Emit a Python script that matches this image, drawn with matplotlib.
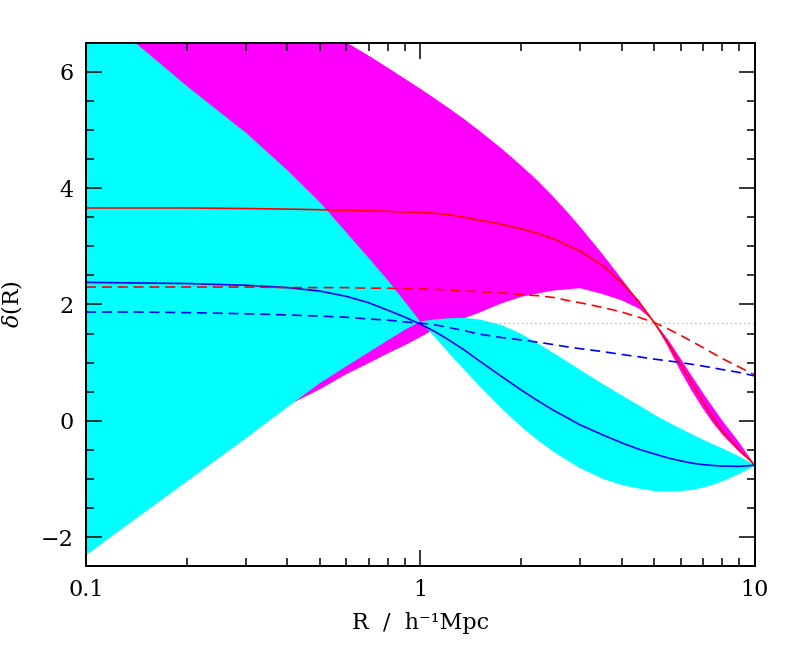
import numpy as np
import matplotlib
matplotlib.use("Agg")
import matplotlib.pyplot as plt

plt.rcParams['font.family'] = ['DejaVu Serif']
plt.rcParams['mathtext.fontset'] = 'dejavuserif'

# radius grid (h^-1 Mpc)
R = [0.1, 0.14, 0.2, 0.3, 0.4, 0.5, 0.6, 0.7, 0.8, 0.9, 1.0,
     1.1, 1.2, 1.35, 1.5, 1.75, 2.0, 2.25, 2.5, 2.75, 3.0,
     3.5, 4.0, 4.5, 5.0, 5.5, 6.0, 6.5, 7.0, 7.5, 8.0, 9.0, 10.0]

# cyan band edges
cyan_a = [7.2, 6.51, 5.76, 4.96, 4.31, 3.76, 3.24, 2.80, 2.41, 2.04, 1.70,
          1.45, 1.20, 0.88, 0.60, 0.21, -0.10, -0.34, -0.53, -0.68, -0.81,
          -0.99, -1.10, -1.16, -1.20, -1.21, -1.20, -1.18, -1.14, -1.09, -1.03, -0.90, -0.76]
cyan_b = [-2.30, -1.68, -1.03, -0.29, 0.25, 0.66, 0.95, 1.19, 1.40, 1.58, 1.72,
          1.75, 1.77, 1.78, 1.75, 1.65, 1.50, 1.33, 1.17, 1.02, 0.88,
          0.64, 0.44, 0.27, 0.11, -0.02, -0.13, -0.23, -0.32, -0.40, -0.47, -0.61, -0.76]

# magenta band edges
mag_up = [12.0, 11.0, 10.0, 8.8, 7.9, 7.1, 6.51, 6.28, 6.07, 5.88, 5.71,
          5.55, 5.40, 5.19, 4.99, 4.68, 4.39, 4.12, 3.85, 3.59, 3.34,
          2.87, 2.44, 2.05, 1.70, 1.40, 1.07, 0.76, 0.48, 0.23, 0.00, -0.38, -0.76]
mag_lo = [-1.64, -1.18, -0.70, -0.14, 0.26, 0.54, 0.80, 0.99, 1.16, 1.30, 1.44,
          1.57, 1.70, 1.76, 1.86, 2.02, 2.13, 2.19, 2.24, 2.26, 2.28,
          2.18, 2.07, 1.93, 1.71, 1.27, 0.85, 0.50, 0.21, -0.04, -0.24, -0.54, -0.76]

# mean profiles
red_solid = [3.66, 3.66, 3.66, 3.65, 3.64, 3.63, 3.62, 3.61, 3.60, 3.59, 3.58,
             3.57, 3.55, 3.50, 3.45, 3.38, 3.30, 3.22, 3.13, 3.02, 2.92,
             2.67, 2.38, 2.05, 1.69, 1.33, 0.97, 0.63, 0.32, 0.05, -0.18, -0.51, -0.76]
blue_solid = [2.38, 2.37, 2.36, 2.33, 2.29, 2.23, 2.14, 2.03, 1.90, 1.78, 1.66,
              1.54, 1.41, 1.22, 1.03, 0.76, 0.53, 0.34, 0.18, 0.05, -0.07,
              -0.24, -0.38, -0.49, -0.57, -0.64, -0.69, -0.73, -0.755, -0.77, -0.78, -0.785, -0.765]
red_dash = [2.30, 2.30, 2.30, 2.30, 2.29, 2.29, 2.29, 2.28, 2.28, 2.27, 2.27,
            2.26, 2.25, 2.23, 2.22, 2.20, 2.17, 2.15, 2.12, 2.07, 2.03,
            1.95, 1.87, 1.78, 1.69, 1.58, 1.47, 1.36, 1.26, 1.16, 1.07, 0.92, 0.79]
blue_dash = [1.87, 1.87, 1.86, 1.84, 1.82, 1.80, 1.78, 1.75, 1.73, 1.70, 1.68,
             1.65, 1.61, 1.55, 1.49, 1.43, 1.39, 1.35, 1.31, 1.27, 1.24,
             1.19, 1.14, 1.10, 1.06, 1.03, 1.00, 0.97, 0.94, 0.91, 0.88, 0.83, 0.77]

delta_c = 1.686

fig = plt.figure(figsize=(7.97, 6.59), dpi=100)
ax = fig.add_axes([0.108, 0.141, 0.839, 0.794])

ax.fill_between(R, mag_lo, mag_up, color='#ff00ff', linewidth=0)
ax.fill_between(R, cyan_b, cyan_a, color='#00ffff', linewidth=0)

ax.axhline(delta_c, color='#999999', lw=0.8, ls=(0, (1, 3)))
ax.plot(R, red_solid, color='red', lw=1.2)
ax.plot(R, blue_solid, color='blue', lw=1.2)
ax.plot(R, red_dash, color='red', lw=1.2, dashes=(6, 3.5))
ax.plot(R, blue_dash, color='blue', lw=1.2, dashes=(6, 3.5))

ax.set_xscale('log')
ax.set_xlim(0.1, 10)
ax.set_ylim(-2.5, 6.5)
ax.set_xticks([0.1, 1, 10])
ax.set_xticklabels(['0.1', '1', '10'])
ax.set_yticks([-2, 0, 2, 4, 6])
ax.set_yticklabels(['\u22122', '0', '2', '4', '6'])
ax.set_yticks(np.arange(-2.5, 6.6, 0.5), minor=True)

for s in ax.spines.values():
    s.set_linewidth(1.4)
ax.tick_params(which='both', direction='in', top=True, right=True, width=1.1,
               labelsize=16, pad=9)
ax.tick_params(which='major', length=11.5)
ax.tick_params(which='minor', length=5.5)

ax.set_xlabel('R  /  h\u207b\u00b9Mpc', fontsize=16, labelpad=8)
ax.set_ylabel(r'$\delta$(R)', fontsize=16, labelpad=12)

fig.savefig('out.png', dpi=100)
